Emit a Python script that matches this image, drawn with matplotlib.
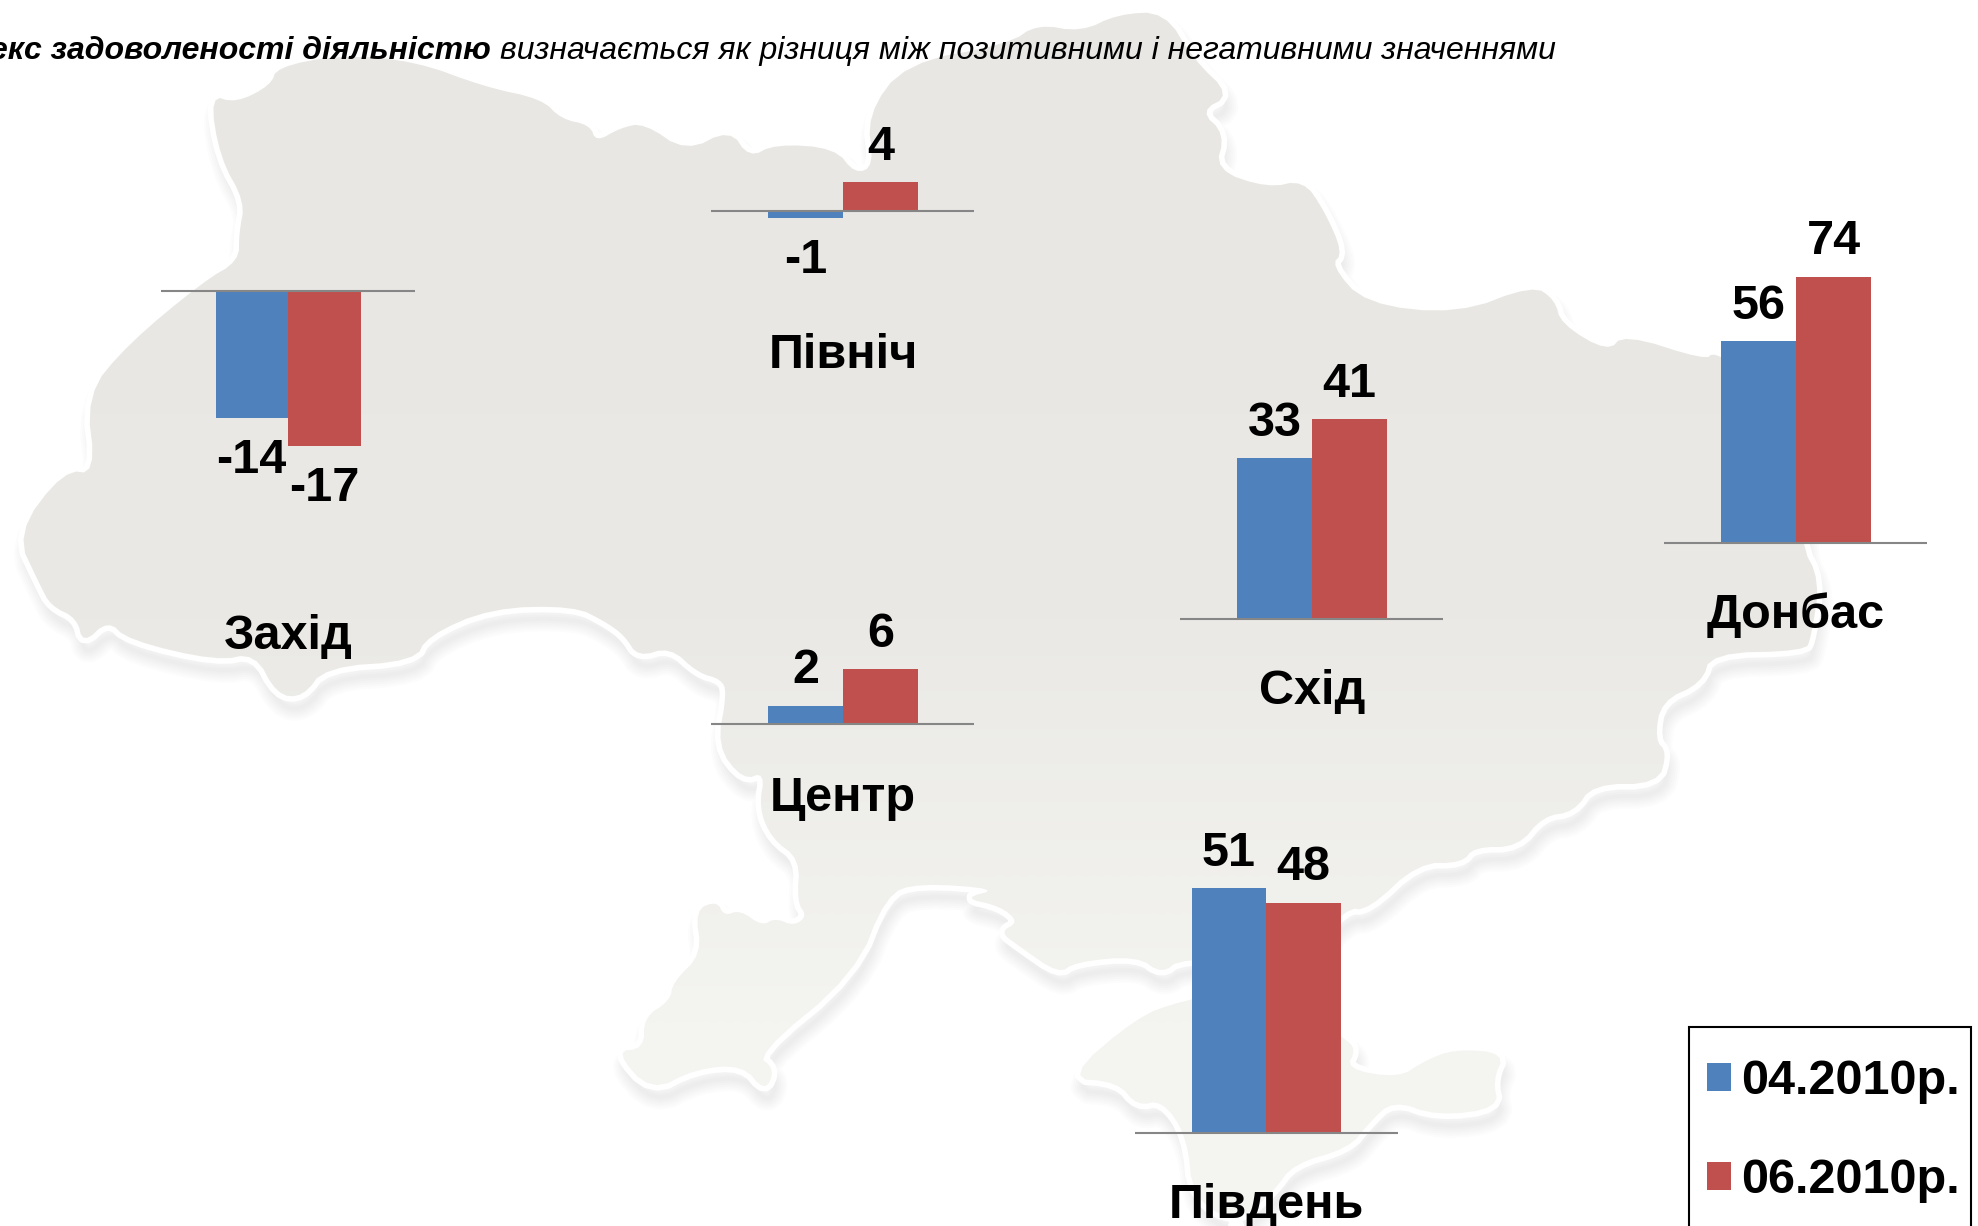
import numpy as np
import matplotlib
matplotlib.use('Agg')
import matplotlib.pyplot as plt
from matplotlib.colors import LinearSegmentedColormap
from matplotlib.patches import PathPatch, Rectangle
from matplotlib.path import Path
from matplotlib.transforms import Affine2D

plt.rcParams['font.family'] = ['Liberation Sans', 'DejaVu Sans']

regions = ['Захід', 'Північ', 'Центр', 'Схід', 'Донбас', 'Південь']
series_names = ['04.2010р.', '06.2010р.']
april = [-14, -1, 2, 33, 56, 51]
june = [-17, 4, 6, 41, 74, 48]

colors = ['#4F81BD', '#C0504D']
W, H = 1978, 1226

# pixel layout of every little chart: axis line ends, baseline, px per unit
line_x0 = [161, 711, 711, 1180, 1664, 1135]
line_x1 = [415, 974, 974, 1443, 1927, 1398]
baseline = [290.5, 211, 724, 619, 543, 1133]
centre = [288, 843, 843, 1312, 1796, 1266]
bar_px = [72.5, 75, 75, 75, 75, 74.5]
px_per_unit = [9.13, 7.25, 9.2, 4.88, 3.6, 4.8]
label_base = [649, 368, 811, 704, 628, 1218]

# backdrop map outline, traced in pixels
mainland = [(277,67),(340,55),(415,61),(485,87),(542,99),(561,119),(590,125),(596,142),(620,128),
    (644,123),(686,152),(730,129),(749,158),(775,144),(835,148),(855,174),(874,166),(867,115),
    (905,63),(1009,44),(1037,24),(1081,32),(1118,14),(1165,12),(1193,59),(1231,95),(1200,111),
    (1225,134),(1215,170),(1268,188),(1303,180),(1324,210),(1343,253),(1331,265),(1365,304),
    (1458,314),(1533,285),(1555,300),(1561,324),(1608,352),(1624,334),(1705,360),(1714,352),
    (1740,370),(1790,420),(1810,470),(1800,543),(1820,580),(1811,638),(1805,651),(1711,653),
    (1702,683),(1661,701),(1655,740),(1667,752),(1658,784),(1593,784),(1574,812),(1543,816),
    (1518,847),(1474,847),(1462,863),(1418,863),(1368,910),(1346,908),(1300,960),(1181,958),
    (1162,974),(1137,956),(1075,962),(1059,974),(1019,946),(1000,932),(1019,922),(1000,906),
    (963,898),(1000,889),(918,883),(886,895),(855,974),(756,1055),(775,1069),(765,1092),
    (743,1065),(695,1069),(651,1092),(615,1051),(644,1049),(644,1017),(670,1001),(673,982),
    (702,954),(695,910),(717,901),(724,916),(740,910),(762,926),(775,918),(794,926),(807,916),
    (797,902),(800,859),(772,839),(759,808),(765,772),(743,780),(717,746),(727,693),(721,679),
    (698,673),(670,647),(638,657),(625,636),(606,622),(574,606),(491,608),(427,636),(415,661),
    (325,667),(303,697),(277,695),(255,653),(217,661),(128,640),(108,620),(83,644),(77,618),
    (51,606),(40,585),(16,534),(64,470),(96,474),(86,395),(128,344),(204,281),(239,261),
    (239,233),(245,202),(220,158),(210,95),(236,103),(271,85)]
crimea = [(1066,1078),(1137,1017),(1181,1001),(1260,985),(1343,1037),(1356,1049),(1346,1069),
    (1399,1078),(1424,1061),(1455,1049),(1505,1053),(1493,1080),(1499,1108),(1437,1116),
    (1393,1100),(1368,1124),(1349,1148),(1293,1164),(1274,1191),(1237,1223),(1193,1199),
    (1187,1136),(1162,1100),(1137,1106),(1118,1082)]


def round_off(pts, passes=2):
    # corner cutting so the border does not look like a polygon
    p = np.array(pts, dtype=float)
    for _ in range(passes):
        q = np.roll(p, -1, axis=0)
        p = np.column_stack([0.75*p + 0.25*q, 0.25*p + 0.75*q]).reshape(-1, 2)
    return [tuple(v) for v in p]


def outline(pts_lists):
    verts, codes = [], []
    for pts in pts_lists:
        pts = round_off(pts)
        verts += pts + [pts[0]]
        codes += [Path.MOVETO] + [Path.LINETO]*(len(pts)-1) + [Path.CLOSEPOLY]
    return Path(verts, codes)


fig = plt.figure(figsize=(W/100, H/100), dpi=100, facecolor='white')
bg = fig.add_axes([0, 0, 1, 1])
bg.set_xlim(0, W)
bg.set_ylim(H, 0)
bg.axis('off')

land = outline([mainland, crimea])

# soft shadow: stacked faint strokes, shifted down and right
shift = Affine2D().translate(3, 12) + bg.transData
for lw in [18, 15, 12, 9, 6, 3]:
    bg.add_patch(PathPatch(land, fc='none', ec='#8c8c84', alpha=0.025, lw=lw,
                           joinstyle='round', transform=shift))

# white halo over the shadow, then the gradient land
bg.add_patch(PathPatch(land, fc='white', ec='white', lw=8, joinstyle='round'))
cmap = LinearSegmentedColormap.from_list('land', ['#E8E7E3', '#EAE9E5', '#F4F4F1'])
img = bg.imshow(np.array([[0.0], [0.5], [1.0]]), cmap=cmap, extent=(0, W, 1230, 10),
                aspect='auto', interpolation='bilinear', zorder=1.5)
img.set_clip_path(PathPatch(land, transform=bg.transData))
bg.set_xlim(0, W)
bg.set_ylim(H, 0)

# heading, cut by the left edge as in the slide
bg.text(491, 59, 'Індекс задоволеності діяльністю', fontsize=23, style='italic',
        weight='bold', ha='right', va='baseline', zorder=5)
bg.text(500, 59, 'визначається як різниця між позитивними і негативними значеннями',
        fontsize=23, style='italic', ha='left', va='baseline', zorder=5)

handles = None
for i, name in enumerate(regions):
    up, down = 320, 200
    base = baseline[i]
    ax = fig.add_axes([line_x0[i]/W, 1-(base+down)/H,
                       (line_x1[i]-line_x0[i])/W, (up+down)/H])
    ax.patch.set_alpha(0)
    vals = [april[i], june[i]]
    bars = ax.bar([0, 1], vals, width=1, color=colors, zorder=2)
    ax.axhline(0, color='#868686', lw=1.5, zorder=3)
    ax.set_xlim((line_x0[i]-centre[i])/bar_px[i]+0.5, (line_x1[i]-centre[i])/bar_px[i]+0.5)
    ax.set_ylim(-down/px_per_unit[i], up/px_per_unit[i])
    ax.axis('off')
    for x, v in zip([0, 1], vals):
        off = 16 if v >= 0 else -39.6
        ax.annotate(str(v), (x, v), xytext=(0, off), textcoords='offset points',
                    ha='center', va='baseline', fontsize=35, weight='bold', annotation_clip=False)
    bg.text(centre[i], label_base[i], name, ha='center', va='baseline', fontsize=35,
            weight='bold', zorder=5)
    handles = bars

# legend frame runs past the bottom of the slide
bg.add_patch(Rectangle((1689, 1027), 282, 210, fc='white', ec='black', lw=1.5, zorder=6))
leg = fig.legend(handles, series_names, loc='upper left', bbox_to_anchor=(1689/W, 1-1041/H),
                 borderaxespad=0, frameon=False,
                 prop={'weight': 'bold', 'size': 35}, handlelength=0.5, handleheight=0.51,
                 handletextpad=0.2, labelspacing=1.11, borderpad=0.37)

fig.savefig('out.png', dpi=100)
